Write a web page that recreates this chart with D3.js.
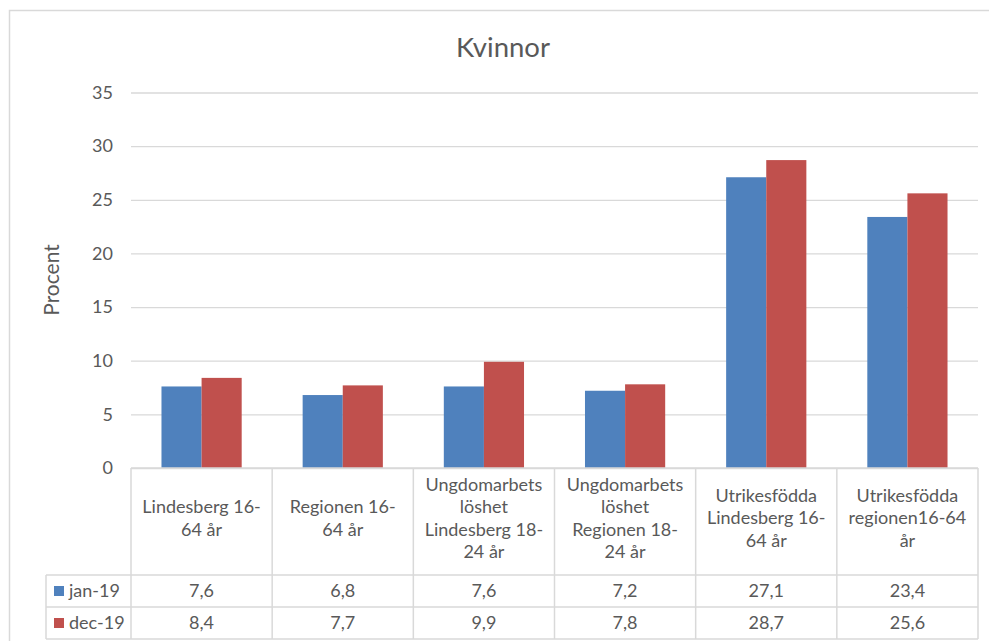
<!DOCTYPE html>
<html>
<head>
<meta charset="utf-8">
<script src="https://cdn.jsdelivr.net/npm/d3@7"></script>
<style>
  html, body { margin: 0; padding: 0; background: #fff; }
  svg { display: block; }
  text { font-family: "Lato", "Open Sans", sans-serif; fill: #595959; }
</style>
</head>
<body>
<svg id="chart" width="989" height="641"></svg>
<script>
// ---- data ----
const title = "Kvinnor";
const yAxisTitle = "Procent";
const categories = [
  "Lindesberg 16-64 år",
  "Regionen 16-64 år",
  "Ungdomarbetslöshet Lindesberg 18-24 år",
  "Ungdomarbetslöshet Regionen 18-24 år",
  "Utrikesfödda Lindesberg 16-64 år",
  "Utrikesfödda regionen16-64 år"
];
const categoryLines = [
  ["Lindesberg 16-", "64 år"],
  ["Regionen 16-", "64 år"],
  ["Ungdomarbets", "löshet", "Lindesberg 18-", "24 år"],
  ["Ungdomarbets", "löshet", "Regionen 18-", "24 år"],
  ["Utrikesfödda", "Lindesberg 16-", "64 år"],
  ["Utrikesfödda", "regionen16-64", "år"]
];
const seriesNames = ["jan-19", "dec-19"];
const jan19 = [7.6, 6.8, 7.6, 7.2, 27.1, 23.4];
const dec19 = [8.4, 7.7, 9.9, 7.8, 28.7, 25.6];
const yTicks = [0, 5, 10, 15, 20, 25, 30, 35];
const colors = ["#4F81BD", "#C0504D"];

const series = [jan19, dec19];
const fmt = v => d3.format(".1f")(v).replace(".", ",");

// ---- layout ----
const svg = d3.select("#chart");
const plotLeft = 131, plotRight = 978, plotTop = 92.5, plotBottom = 468;
const tableLeft = 46;
const rowBounds = [468, 575, 607, 639];
const gridColor = "#d9d9d9";
const fs = 18;

// outer border
svg.append("rect").attr("x", 9.5).attr("y", 10.5).attr("width", 1000).attr("height", 700)
  .attr("fill", "none").attr("stroke", gridColor).attr("stroke-width", 1.5);

const x = d3.scaleBand().domain(categories).range([plotLeft, plotRight]).paddingInner(0).paddingOuter(0);
const xInner = d3.scaleBand().domain(seriesNames).range([0, x.bandwidth()]).paddingInner(0).paddingOuter(0.76);
const y = d3.scaleLinear().domain([0, 35]).range([plotBottom, plotTop]);

// gridlines + y axis labels
const yAxis = d3.axisLeft(y).tickValues(yTicks).tickSize(-(plotRight - plotLeft)).tickPadding(18).tickFormat(d3.format("d"));
const gy = svg.append("g").attr("transform", `translate(${plotLeft},0)`).call(yAxis);
gy.select(".domain").remove();
gy.selectAll(".tick line").attr("stroke", gridColor).attr("stroke-width", 1.3);
gy.selectAll(".tick text").attr("font-size", fs).attr("fill", "#595959")
  .style("font-family", "Lato, 'Open Sans', sans-serif");

// bars
const groups = svg.append("g").selectAll("g").data(categories).join("g")
  .attr("transform", d => `translate(${x(d)},0)`);
seriesNames.forEach((s, si) => {
  groups.append("rect")
    .attr("x", xInner(s))
    .attr("width", xInner.bandwidth())
    .attr("y", (d, i) => y(series[si][i]))
    .attr("height", (d, i) => y(0) - y(series[si][i]))
    .attr("fill", colors[si]);
});

// title
svg.append("text").attr("x", 503).attr("y", 57).attr("text-anchor", "middle")
  .attr("font-size", 27.5).text(title);

// y axis title
svg.append("text").attr("transform", "translate(59,280) rotate(-90)").attr("text-anchor", "middle")
  .attr("font-size", 21).text(yAxisTitle);

// data table
const tbl = svg.append("g").attr("stroke", gridColor).attr("stroke-width", 1.5);
tbl.append("line").attr("x1", plotLeft).attr("x2", plotRight).attr("y1", rowBounds[0]).attr("y2", rowBounds[0]);
rowBounds.slice(1).forEach(yy => {
  tbl.append("line").attr("x1", tableLeft).attr("x2", plotRight).attr("y1", yy).attr("y2", yy);
});
tbl.append("line").attr("x1", tableLeft).attr("x2", tableLeft).attr("y1", rowBounds[1]).attr("y2", rowBounds[3]);
categories.forEach(c => {
  tbl.append("line").attr("x1", x(c)).attr("x2", x(c)).attr("y1", rowBounds[0]).attr("y2", rowBounds[3]);
});
tbl.append("line").attr("x1", plotRight).attr("x2", plotRight).attr("y1", rowBounds[0]).attr("y2", rowBounds[3]);

// category header labels
const lh = 22.5;
categories.forEach((c, i) => {
  const lines = categoryLines[i];
  const cy = 518;
  const start = cy - (lines.length - 1) * lh / 2;
  const t = svg.append("text").attr("text-anchor", "middle").attr("font-size", fs);
  lines.forEach((ln, j) => {
    t.append("tspan").attr("x", x(c) + x.bandwidth() / 2).attr("y", start + j * lh).attr("dy", "0.35em").text(ln);
  });
});

// value rows + legend keys
seriesNames.forEach((s, si) => {
  const rowMid = (rowBounds[si + 1] + rowBounds[si + 2]) / 2;
  svg.append("rect").attr("x", 54).attr("y", rowMid - 5).attr("width", 10).attr("height", 10).attr("fill", colors[si]);
  svg.append("text").attr("x", 69).attr("y", rowMid).attr("dy", "0.35em").attr("font-size", fs).text(s);
  categories.forEach((c, i) => {
    svg.append("text").attr("x", x(c) + x.bandwidth() / 2).attr("y", rowMid).attr("dy", "0.35em")
      .attr("text-anchor", "middle").attr("font-size", fs).text(fmt(series[si][i]));
  });
});
</script>
</body>
</html>
